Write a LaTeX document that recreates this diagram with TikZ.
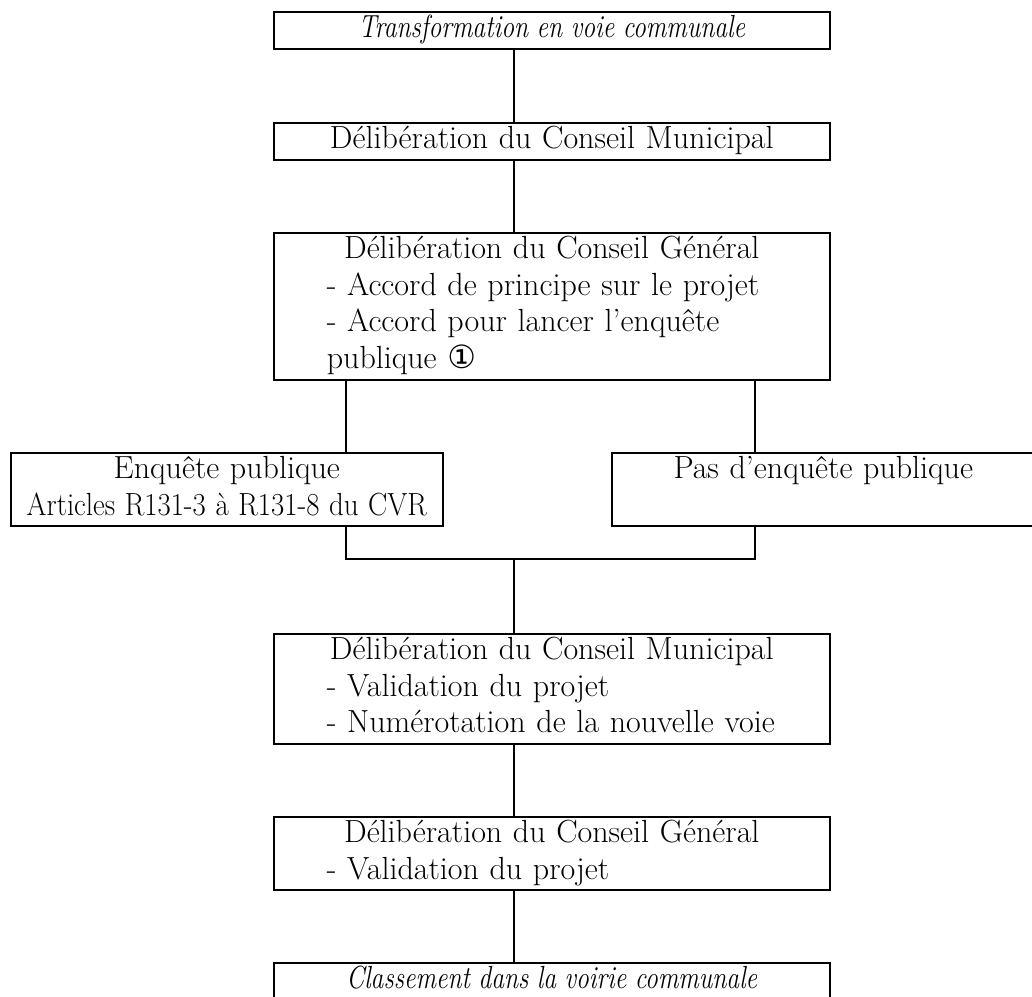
\documentclass[tikz,border=0pt]{standalone}
\usepackage{fontspec}
\usepackage{graphicx}
\newfontfamily\symbfont{DejaVu Sans}
\usetikzlibrary{positioning}

\tikzset{
  etape/.style={draw, line width=1.6pt, rectangle, inner sep=0pt, anchor=north west,
    align=left, font=\fontsize{32}{36.7}\selectfont},
  lien/.style={line width=1.6pt},
}
\newcommand{\ligneC}[1]{\makebox[\hsize][c]{\strut #1}}
\newcommand{\ligneG}[1]{\hspace*{53pt}\strut #1}
\newcommand{\titre}[1]{\scalebox{0.8}[1]{\itshape #1}}
\newcommand{\rond}{{\symbfont\itshape\fontsize{32}{30}\selectfont ①}}

\begin{document}
\begin{tikzpicture}[x=1pt, y=-1pt]
  \useasboundingbox (0,0) rectangle (1032,996);
  \clip (0,0) rectangle (1032,996);

  % etapes principales
  \node[etape, text width=556pt, minimum height=37pt] (t1) at (273,11)
    {\ligneC{\titre{Transformation en voie communale}}};
  \node[etape, text width=556pt, minimum height=37pt] (t2) at (273,122)
    {\ligneC{Délibération du Conseil Municipal}};
  \node[etape, text width=556pt, minimum height=147pt] (t3) at (273,232)
    {\ligneC{Délibération du Conseil Général}\\
     \ligneG{- Accord de principe sur le projet}\\
     \ligneG{- Accord pour lancer l’enquête}\\
     \ligneG{publique \rond}};

  % les deux branches
  \node[etape, text width=432pt, minimum height=71pt] (enq) at (10,452)
    {\ligneC{Enquête publique}\\
     \ligneC{\scalebox{0.9}[1]{Articles R131-3 à R131-8 du CVR}}};
  \node[etape, text width=423pt, minimum height=71pt] (pasenq) at (611,452)
    {\ligneC{Pas d’enquête publique}\\ \strut};

  \node[etape, text width=556pt, minimum height=110pt] (t6) at (273,633)
    {\ligneC{Délibération du Conseil Municipal}\\
     \ligneG{- Validation du projet}\\
     \ligneG{- Numérotation de la nouvelle voie}};
  \node[etape, text width=556pt, minimum height=73pt] (t7) at (273,816)
    {\ligneC{Délibération du Conseil Général}\\
     \ligneG{- Validation du projet}};
  \node[etape, text width=556pt, minimum height=37pt] (t8) at (273,962)
    {\ligneC{\titre{Classement dans la voirie communale}}};

  % traits de liaison
  \coordinate (axe) at (514,0);
  \coordinate (gauche) at (346,0);
  \coordinate (droite) at (755,0);
  \coordinate (jonction) at (514,559);

  \draw[lien] (axe |- t1.south) -- (axe |- t2.north);
  \draw[lien] (axe |- t2.south) -- (axe |- t3.north);
  \draw[lien] (gauche |- t3.south) -- (gauche |- enq.north);
  \draw[lien] (droite |- t3.south) -- (droite |- pasenq.north);
  \draw[lien] (gauche |- enq.south) |- (jonction) -| (droite |- pasenq.south);
  \draw[lien] (jonction) -- (axe |- t6.north);
  \draw[lien] (axe |- t6.south) -- (axe |- t7.north);
  \draw[lien] (axe |- t7.south) -- (axe |- t8.north);
\end{tikzpicture}
\end{document}
